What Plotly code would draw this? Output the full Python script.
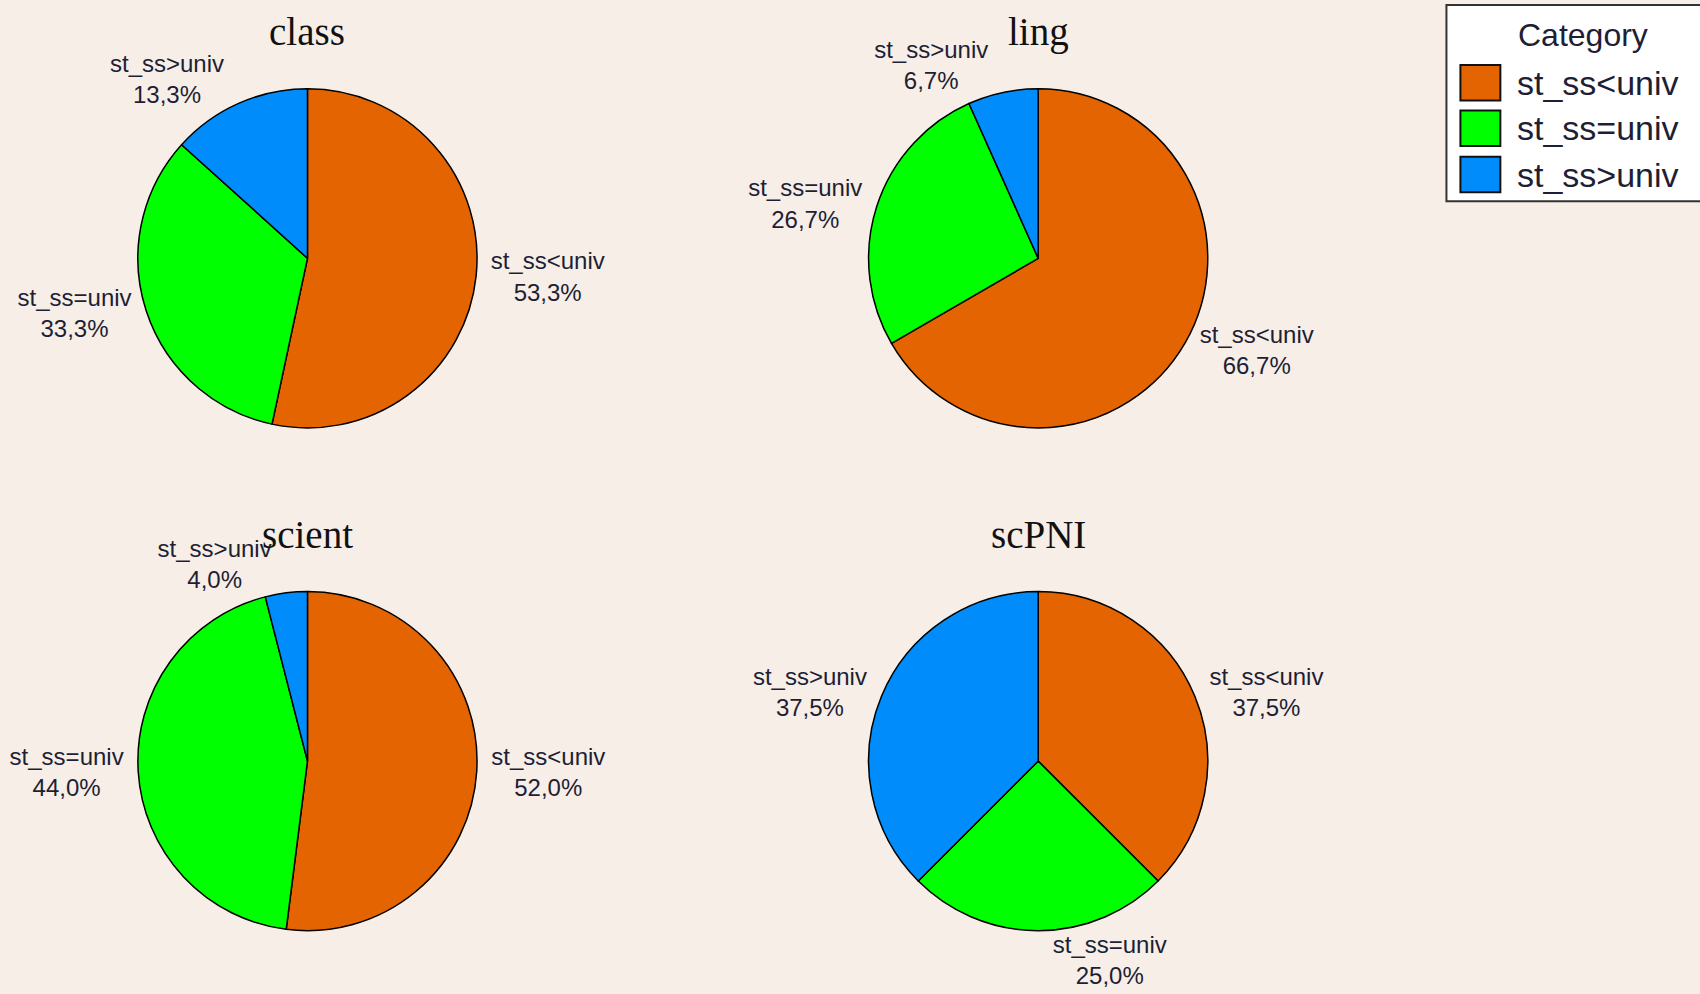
import plotly.graph_objects as go

categories = ["st_ss<univ", "st_ss=univ", "st_ss>univ"]
colors = ["#E36400", "#00FF00", "#008CFA"]

groups = ["class", "ling", "scient", "scPNI"]
class_pct = [53.3, 33.3, 13.3]
ling_pct = [66.7, 26.7, 6.7]
scient_pct = [52.0, 44.0, 4.0]
scpni_pct = [37.5, 25.0, 37.5]
values = [class_pct, ling_pct, scient_pct, scpni_pct]

W, H = 1700, 994
# pie centres / radius in pixels (layout only)
centres = [(305, 262), (1037, 262), (305, 772), (1037, 772)]
R = 172
title_y = [32, 32, 542, 542]


def px(x):
    return x / W


def py(y):
    return 1 - y / H


fig = go.Figure()
for g, vals, (cx, cy) in zip(groups, values, centres):
    fig.add_trace(go.Pie(
        labels=categories,
        values=vals,
        sort=False,
        direction="clockwise",
        rotation=0,
        marker=dict(colors=colors, line=dict(color="#000000", width=1.5)),
        textposition="outside",
        texttemplate="%{label}<br>%{value:.1f}%",
        textfont=dict(family="Liberation Sans, Arial, sans-serif", size=24, color="#1e1e34"),
        hoverinfo="label+value",
        showlegend=False,
        name=g,
        domain=dict(x=[px(cx - R), px(cx + R)], y=[py(cy + R), py(cy - R)]),
    ))

annotations = []
for g, (cx, cy), ty in zip(groups, centres, title_y):
    annotations.append(dict(
        text=g, x=px(cx), y=py(ty), xref="paper", yref="paper",
        xanchor="center", yanchor="middle", showarrow=False,
        font=dict(family="Liberation Serif, Times New Roman, serif", size=39, color="#111111"),
    ))

# legend drawn manually
shapes = [dict(type="rect", xref="paper", yref="paper",
               x0=px(1446), x1=px(1712), y0=py(204), y1=py(5),
               fillcolor="#FFFFFF", line=dict(color="#333333", width=2), layer="above")]
annotations.append(dict(
    text="Category", x=px(1583), y=py(36), xref="paper", yref="paper",
    xanchor="center", yanchor="middle", showarrow=False,
    font=dict(family="Liberation Sans, Arial, sans-serif", size=32, color="#1e1e34")))
item_y = [84, 130, 177]
for cat, col, iy in zip(categories, colors, item_y):
    shapes.append(dict(type="rect", xref="paper", yref="paper",
                       x0=px(1460), x1=px(1500), y0=py(iy + 18), y1=py(iy - 18),
                       fillcolor=col, line=dict(color="#111111", width=2), layer="above"))
    annotations.append(dict(
        text=cat, x=px(1515), y=py(iy), xref="paper", yref="paper",
        xanchor="left", yanchor="middle", showarrow=False,
        font=dict(family="Liberation Sans, Arial, sans-serif", size=34, color="#1e1e34")))

fig.update_layout(
    width=W, height=H, autosize=False,
    margin=dict(l=0, r=0, t=0, b=0, pad=0),
    paper_bgcolor="#F6EEE7",
    plot_bgcolor="#F6EEE7",
    separators=",.",
    annotations=annotations,
    shapes=shapes,
    showlegend=False,
)

fig.write_html(
    "out.html",
    config={"displayModeBar": False, "responsive": False},
    post_script="document.body.style.margin='0';document.body.style.padding='0';"
                "document.body.style.overflow='hidden';document.body.style.background='#F6EEE7';",
)
